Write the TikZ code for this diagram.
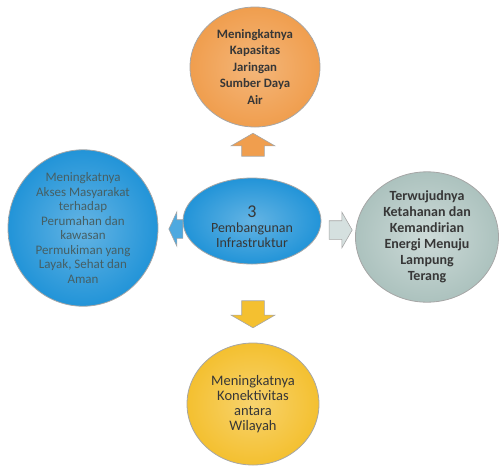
\documentclass[tikz,border=0pt]{standalone}
\usepackage{fontspec}
\setmainfont{Carlito}
\usetikzlibrary{shapes.geometric,shapes.arrows}

\definecolor{airorange}{RGB}{240,158,78}
\definecolor{infrablue}{RGB}{34,148,216}
\definecolor{energigray}{RGB}{172,194,190}
\definecolor{wilayahyellow}{RGB}{244,192,48}
\definecolor{teksgelap}{RGB}{55,55,55}

\tikzset{
  goal/.style={ellipse, draw=gray!70, line width=0.8pt, align=center,
    text=teksgelap, inner sep=0pt},
  blockarrow/.style={single arrow, draw=gray!70, line width=0.6pt,
    inner sep=0pt, single arrow head extend=#1, single arrow tip angle=120},
}

\begin{document}
\begin{tikzpicture}[x=1pt,y=-1pt]
    \useasboundingbox (0,0) rectangle (500,467);

    % Center: the program
    \node[goal, inner color=infrablue!70, outer color=infrablue,
          minimum width=138pt, minimum height=86pt,
          font=\fontsize{14}{15}\selectfont] (pusat) at (252,221)
          {\rule{0pt}{12pt}\\[-4pt]{\fontsize{18}{18}\selectfont 3}\\Pembangunan\\Infrastruktur};

    % Top: water
    \node[goal, inner color=airorange!75, outer color=airorange,
          minimum width=130pt, minimum height=120pt,
          font=\bfseries\fontsize{12.8}{16.5}\selectfont] (air) at (255,67)
          {Meningkatnya\\Kapasitas\\Jaringan\\Sumber Daya\\Air};

    % Left: housing
    \node[goal, inner color=infrablue!70, outer color=infrablue,
          minimum width=150pt, minimum height=154pt,
          text={rgb,255:red,70;green,95;blue,100},
          font=\fontsize{13}{14.5}\selectfont] (rumah) at (83,228)
          {Meningkatnya\\Akses Masyarakat\\terhadap\\Perumahan dan\\kawasan\\Permukiman yang\\Layak, Sehat dan\\Aman};

    % Right: energy
    \node[goal, inner color=energigray!60, outer color=energigray,
          minimum width=143pt, minimum height=114pt,
          font=\bfseries\fontsize{14}{16}\selectfont] (energi) at (427,237)
          {Terwujudnya\\Ketahanan dan\\Kemandirian\\Energi Menuju\\Lampung\\Terang};

    % Bottom: connectivity
    \node[goal, inner color=wilayahyellow!70, outer color=wilayahyellow,
          minimum width=132pt, minimum height=122pt,
          font=\fontsize{14.5}{15}\selectfont] (wilayah) at (253,404)
          {Meningkatnya\\Konektivitas\\antara\\Wilayah};

    % Block arrows
    \node[blockarrow=10.5pt, shape border rotate=90, text width=22pt,
          minimum height=23pt, fill=airorange] (panahatas) at (253,148) {};
    \node[blockarrow=10.5pt, shape border rotate=270, text width=22pt,
          minimum height=27pt, fill=wilayahyellow] (panahbawah) at (253,311) {};
    \node[blockarrow=8pt, shape border rotate=180, text height=18pt,
          text depth=0pt, minimum height=14pt, single arrow tip angle=130,
          fill=infrablue!80] (panahkiri) at (178,229) {};
    \node[blockarrow=8.5pt, shape border rotate=0, text height=18pt,
          text depth=0pt, minimum height=23pt,
          fill=energigray!50] (panahkanan) at (338,230) {};
\end{tikzpicture}
\end{document}
